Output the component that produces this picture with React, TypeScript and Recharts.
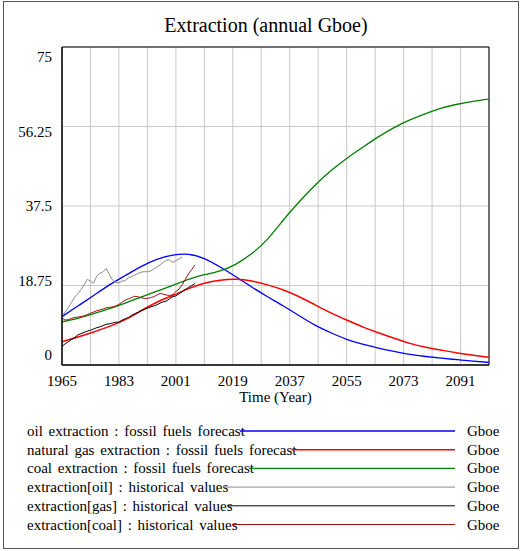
import React from 'react';
import { LineChart, Line, XAxis, YAxis, CartesianGrid, ReferenceArea } from 'recharts';

// forecast runs, read every 5 years
const forecastYears = [1965, 1970, 1975, 1980, 1985, 1990, 1995, 2000, 2005, 2010, 2015, 2020, 2025, 2030, 2035, 2040, 2045, 2050, 2055, 2060, 2065, 2070, 2075, 2080, 2085, 2090, 2095, 2100];
const oilForecast = [11.4, 13.9, 16.4, 18.9, 21.1, 23.2, 24.9, 25.9, 26.1, 25.1, 23.1, 20.8, 18.4, 16.1, 13.9, 11.6, 9.4, 7.6, 6.05, 4.9, 4.0, 3.2, 2.5, 2.0, 1.6, 1.25, 0.9, 0.6];
const gasForecast = [5.5, 6.6, 7.8, 9.1, 10.7, 12.8, 14.8, 16.4, 18.0, 19.3, 20.0, 20.2, 19.8, 18.9, 17.7, 16.1, 14.2, 12.3, 10.6, 9.0, 7.6, 6.3, 5.1, 4.2, 3.5, 2.85, 2.3, 1.8];
const coalForecast = [10.2, 11.0, 12.1, 13.3, 14.6, 16.0, 17.4, 18.8, 20.2, 21.3, 22.2, 23.8, 26.3, 29.7, 34.2, 38.5, 42.4, 45.8, 48.7, 51.3, 53.8, 56.0, 57.8, 59.3, 60.6, 61.5, 62.2, 62.7];

// historical values, yearly
const historyYears = [1965, 1966, 1967, 1968, 1969, 1970, 1971, 1972, 1973, 1974, 1975, 1976, 1977, 1978, 1979, 1980, 1981, 1982, 1983, 1984, 1985, 1986, 1987, 1988, 1989, 1990, 1991, 1992, 1993, 1994, 1995, 1996, 1997, 1998, 1999, 2000, 2001, 2002, 2003, 2004, 2005, 2006, 2007];
const oilHistory = [11.5, 12.5, 13.5, 14.8, 16.0, 16.8, 17.8, 18.9, 20.2, 19.8, 19.3, 21.0, 21.6, 22.0, 22.8, 21.3, 20.0, 19.5, 19.4, 19.8, 19.9, 20.6, 20.8, 21.2, 21.6, 21.9, 22.0, 22.0, 22.2, 22.6, 23.1, 23.6, 24.2, 24.7, 24.8, 24.2, 24.6, 25.0, 25.5];
const gasHistory = [4.4, 5.0, 5.5, 6.0, 6.5, 7.1, 7.4, 7.7, 8.0, 8.2, 8.5, 8.8, 9.0, 9.3, 9.6, 9.7, 9.9, 10.1, 10.1, 10.6, 10.9, 11.2, 11.7, 12.1, 12.4, 12.8, 13.1, 13.4, 13.7, 13.9, 14.2, 14.6, 14.9, 15.1, 15.6, 16.1, 16.3, 16.8, 17.3, 17.8, 18.3, 18.7, 19.2];
const coalHistory = [11.1, 10.6, 10.7, 11.0, 11.2, 11.3, 11.4, 11.6, 11.9, 12.2, 12.5, 12.8, 13.0, 13.2, 13.5, 13.6, 13.7, 13.9, 14.3, 14.8, 15.3, 15.6, 15.9, 16.2, 16.1, 15.9, 15.7, 15.7, 15.9, 16.1, 16.5, 16.9, 16.7, 16.5, 16.4, 16.6, 17.3, 17.9, 18.9, 20.2, 21.5, 22.5, 23.6];

const yTicks = [0, 18.75, 37.5, 56.25, 75];
const gridYears = [1965, 1974, 1983, 1992, 2001, 2010, 2019, 2028, 2037, 2046, 2055, 2064, 2073, 2082, 2091, 2100];
const labelYears = [1965, 1983, 2001, 2019, 2037, 2055, 2073, 2091];

const zip = (years: number[], values: number[]) => values.map((v, i) => ({ year: years[i], value: v }));

const series = [
  { name: 'oil extraction : fossil fuels forecast', data: zip(forecastYears, oilForecast), color: '#0000FF', width: 1.3, type: 'natural' },
  { name: 'natural gas extraction : fossil fuels forecast', data: zip(forecastYears, gasForecast), color: '#FF0000', width: 1.5, type: 'natural' },
  { name: 'coal extraction : fossil fuels forecast', data: zip(forecastYears, coalForecast), color: '#008000', width: 1.3, type: 'natural' },
  { name: 'extraction[oil] : historical values', data: zip(historyYears, oilHistory), color: '#8C8C8C', width: 1, type: 'linear' },
  { name: 'extraction[gas] : historical values', data: zip(historyYears, gasHistory), color: '#000000', width: 1, type: 'linear' },
  { name: 'extraction[coal] : historical values', data: zip(historyYears, coalHistory), color: '#A01010', width: 1, type: 'linear' },
];

const FONT = '"Liberation Serif", "Times New Roman", serif';
const textStyle = { fontFamily: FONT, fill: '#000' };

const XTick = ({ x, y, payload }: any) => {
  if (!labelYears.includes(payload.value)) return null;
  return (
    <text x={x} y={y + 13} textAnchor="middle" fontSize={15} style={textStyle}>
      {payload.value}
    </text>
  );
};

const YTick = ({ y, payload }: any) => {
  // vensim spreads the labels a bit inside the axis ends
  const off = (payload.value / 75 - 0.5) * 20;
  return (
    <text x={52} y={y + off + 5} textAnchor="end" fontSize={15} style={textStyle}>
      {payload.value}
    </text>
  );
};

const Legend = () => {
  const refs = React.useRef<(SVGTextElement | null)[]>([]);
  const [ends, setEnds] = React.useState<number[]>(series.map(() => 240));
  React.useLayoutEffect(() => {
    setEnds(refs.current.map(t => (t ? 27 + t.getComputedTextLength() : 240)));
  }, []);
  return (
    <svg width={522} height={130} style={{ position: 'absolute', left: 0, top: 420 }}>
      {series.map((s, i) => {
        const cy = 11 + i * 18.7;
        return (
          <g key={s.name}>
            <text
              ref={el => { refs.current[i] = el; }}
              x={27}
              y={cy + 5}
              fontSize={15}
              style={{ ...textStyle, wordSpacing: 2 }}
            >
              {s.name}
            </text>
            <line x1={ends[i] - 5} x2={455} y1={cy} y2={cy} stroke={s.color} strokeWidth={s.width} />
            <text x={467} y={cy + 5} fontSize={15} style={textStyle}>Gboe</text>
          </g>
        );
      })}
    </svg>
  );
};

export default function App() {
  return (
    <div style={{ position: 'absolute', left: 0, top: 0, width: 522, height: 551, background: '#fff' }}>
      <div style={{ position: 'absolute', left: 3, top: 1, width: 514, height: 546, border: '1px solid #555' }} />
      <div style={{ position: 'absolute', left: 0, top: 14, width: 532, textAlign: 'center', fontFamily: FONT, fontSize: 20 }}>
        Extraction (annual Gboe)
      </div>
      <div style={{ position: 'absolute', left: 0, top: 0 }}>
        <LineChart width={522} height={420} margin={{ top: 47, right: 33, bottom: 15, left: 0 }}>
          <CartesianGrid stroke="#C8C8C8" strokeWidth={1} />
          <XAxis
            dataKey="year"
            type="number"
            domain={[1965, 2100]}
            ticks={gridYears}
            interval={0}
            tick={<XTick />}
            tickLine={false}
            axisLine={{ stroke: '#000' }}
            height={40}
            allowDuplicatedCategory={false}
            label={{ value: 'Time (Year)', position: 'insideBottom', offset: 0, dy: -3, fontSize: 15, fontFamily: FONT, fill: '#000' }}
          />
          <YAxis
            type="number"
            domain={[0, 75]}
            ticks={yTicks}
            interval={0}
            tick={<YTick />}
            tickLine={false}
            axisLine={{ stroke: '#000' }}
            width={62}
          />
          <ReferenceArea x1={1965} x2={2100} y1={0} y2={75} fill="none" stroke="#000" strokeWidth={1} />
          {series.map(s => (
            <Line
              key={s.name}
              data={s.data}
              dataKey="value"
              type={s.type as any}
              stroke={s.color}
              strokeWidth={s.width}
              dot={false}
              activeDot={false}
              isAnimationActive={false}
            />
          ))}
        </LineChart>
      </div>
      <Legend />
    </div>
  );
}
